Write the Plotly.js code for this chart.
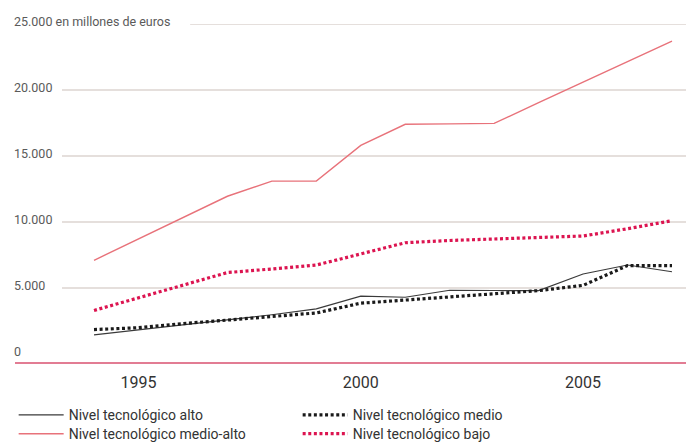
<!DOCTYPE html>
<html>
<head>
<meta charset="utf-8">
<script src="https://cdn.plot.ly/plotly-3.0.1.min.js"></script>
<style>
html,body{margin:0;padding:0;background:#fff;}
#chart{width:686px;height:442px;}
</style>
</head>
<body>
<div id="chart"></div>
<script>
// ---- data (millones de euros) ----
const years = [1994,1995,1996,1997,1998,1999,2000,2001,2002,2003,2004,2005,2006,2007];
const alto = [1450,1830,2210,2600,2975,3420,4390,4300,4830,4810,4800,6060,6740,6230];
const medio = [1850,1990,2300,2580,2830,3110,3850,4090,4340,4550,4800,5200,6700,6700];
const medioAlto = [7100,8700,10300,11950,13100,13100,15800,17400,17430,17470,19050,20600,22150,23700];
const bajo = [3300,4270,5230,6170,6440,6740,7580,8430,8600,8710,8830,8940,9490,10100];

const seriesNames = ["Nivel tecnológico alto","Nivel tecnológico medio","Nivel tecnológico medio-alto","Nivel tecnológico bajo"];
const xTicks = [1995,2000,2005];
const yTicks = [0,5000,10000,15000,20000,25000];
const yTickText = ["0","5.000","10.000","15.000","20.000","25.000 en millones de euros"];

const FONT = "Roboto, 'DejaVu Sans', sans-serif";
const dotDash = "3px,2.6px";

const traces = [
  {x: years, y: alto, name: seriesNames[0], legend: "legend", mode: "lines", line: {color: "#3a3a3a", width: 1.2}},
  {x: years, y: medio, name: seriesNames[1], legend: "legend", mode: "lines", line: {color: "#1a1a1a", width: 3.2, dash: dotDash}},
  {x: years, y: medioAlto, name: seriesNames[2], legend: "legend2", mode: "lines", line: {color: "#e8727a", width: 1.4}},
  {x: years, y: bajo, name: seriesNames[3], legend: "legend2", mode: "lines", line: {color: "#dc1450", width: 3.2, dash: dotDash}}
];

// gridlines (drawn as shapes so they start right of the labels) + y labels
const shapes = [];
const annotations = [];
yTicks.forEach((v, i) => {
  if (v > 0) {
    shapes.push({type: "line", xref: "paper", yref: "y", x0: i === yTicks.length - 1 ? 0.261 : 0.07, x1: 1, y0: v, y1: v,
      line: {color: "#ddd5d1", width: 1.5}, layer: "below"});
  }
  annotations.push({xref: "paper", yref: "y", x: -0.0045, y: v, text: yTickText[i], showarrow: false,
    xanchor: "left", yanchor: "middle", yshift: 3, font: {family: FONT, size: 12.5, color: "#5a5a5a"}});
});

const legendBase = {orientation: "h", x: -0.002, xanchor: "left", yanchor: "top",
  entrywidth: 224, entrywidthmode: "pixels", itemwidth: 45, tracegroupgap: 0,
  font: {family: FONT, size: 14, color: "#333"}, bgcolor: "rgba(0,0,0,0)"};

const layout = {
  width: 686, height: 442,
  margin: {l: 15, r: 0, t: 24, b: 80, autoexpand: false},
  paper_bgcolor: "#fff", plot_bgcolor: "rgba(0,0,0,0)",
  showlegend: true,
  legend: Object.assign({}, legendBase, {y: -0.11}),
  legend2: Object.assign({}, legendBase, {y: -0.166}),
  xaxis: {range: [1992.223, 2007.315], tickvals: xTicks, ticktext: xTicks.map(String), showgrid: false, zeroline: false,
    showline: true, linecolor: "#e27c93", linewidth: 2, ticks: "", ticklabelstandoff: 5,
    tickfont: {family: FONT, size: 16, color: "#333"}, fixedrange: true},
  yaxis: {range: [-606, 25000], showgrid: false, zeroline: false, showticklabels: false, ticks: "", showline: false},
  shapes: shapes,
  annotations: annotations
};

Plotly.newPlot("chart", traces, layout, {displayModeBar: false, staticPlot: true});
</script>
</body>
</html>
